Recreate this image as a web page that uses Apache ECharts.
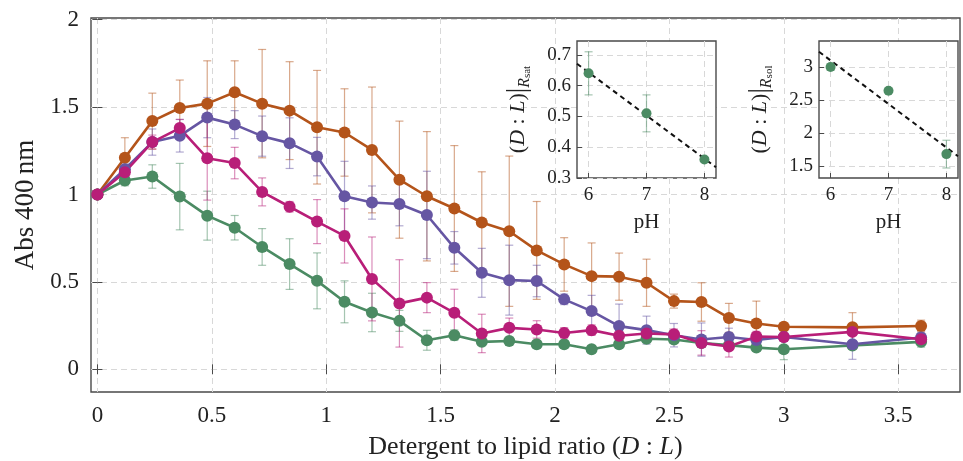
<!DOCTYPE html>
<html>
<head>
<meta charset="utf-8">
<script src="https://cdn.jsdelivr.net/npm/echarts@6/dist/echarts.min.js"></script>
<style>
html,body{margin:0;padding:0;background:#fff;}
#c{width:963px;height:461px;}
</style>
</head>
<body>
<div id="c"></div>
<script>
// ---------- data ----------
const xVals = [0,0.12,0.24,0.36,0.48,0.6,0.72,0.84,0.96,1.08,1.2,1.32,1.44,1.56,1.68,1.8,1.92,2.04,2.16,2.28,2.4,2.52,2.64,2.76,2.88,3.0,3.3,3.6];
const orangeVals = [1.0,1.21,1.42,1.495,1.52,1.585,1.52,1.48,1.385,1.355,1.255,1.085,0.99,0.92,0.84,0.79,0.68,0.60,0.533,0.53,0.495,0.39,0.385,0.294,0.262,0.243,0.24,0.248];
const orangeErr  = [0,0.115,0.16,0.16,0.245,0.18,0.31,0.28,0.325,0.25,0.36,0.335,0.37,0.36,0.29,0.43,0.28,0.153,0.19,0.135,0.135,0.04,0.11,0.083,0.128,0.01,0.084,0.033];
const purpleVals = [1.0,1.145,1.30,1.336,1.44,1.40,1.334,1.294,1.217,0.99,0.954,0.946,0.883,0.695,0.552,0.51,0.505,0.40,0.333,0.247,0.224,0.195,0.17,0.185,0.168,0.185,0.143,0.182];
const purpleErr  = [0,0.03,0.075,0.093,0.115,0.08,0.115,0.145,0.11,0.2,0.095,0.125,0.25,0.093,0.14,0.2,0.09,0.03,0.09,0.126,0.08,0.067,0.095,0.05,0.03,0.02,0.086,0.03];
const magentaVals = [1.0,1.128,1.30,1.38,1.208,1.18,1.015,0.93,0.845,0.763,0.517,0.377,0.41,0.323,0.205,0.237,0.228,0.208,0.224,0.192,0.205,0.20,0.151,0.13,0.187,0.185,0.214,0.172];
const magentaErr  = [0,0.03,0.04,0.05,0.24,0.09,0.08,0.03,0.126,0.155,0.24,0.25,0.086,0.135,0.11,0.056,0.05,0.03,0.03,0.03,0.03,0.03,0.07,0.06,0.03,0.02,0.02,0.03];
const greenVals = [1.0,1.08,1.103,0.988,0.879,0.81,0.70,0.602,0.506,0.386,0.325,0.277,0.166,0.195,0.157,0.162,0.143,0.143,0.115,0.143,0.175,0.17,0.15,0.138,0.124,0.115,0.136,0.157];
const greenErr  = [0,0.03,0.067,0.19,0.14,0.07,0.105,0.145,0.16,0.12,0.11,0.06,0.057,0.03,0.02,0.02,0.02,0.02,0.02,0.02,0.02,0.02,0.02,0.02,0.02,0.06,0.02,0.03];

const xTicks = [0,0.5,1,1.5,2,2.5,3,3.5];
const yTicks = [0,0.5,1,1.5,2];

// insets
const pH = [6,7,8];
const satVals = [0.64,0.51,0.36];
const satErr  = [0.07,0.06,0.0];
const solVals = [3.0,2.64,1.68];
const solErr  = [0.05,0.0,0.21];
const pHFit = [5.8,8.2];
const satFit = [0.671,0.335];
const solFit = [3.232,1.648];
const pHTicks = [6,7,8];
const satTicks = [0.3,0.4,0.5,0.6,0.7];
const solTicks = [1.5,2,2.5,3];

// ---------- styles ----------
const C = {orange:'#b4541a', purple:'#6656a3', magenta:'#b81e78', green:'#4b8b63'};
const FONT = 'Liberation Serif';
const frame = '#4a4a4a';
const gridLine = {show:true, lineStyle:{color:'#d8d8d8', type:[6,4], width:1}};

function zip(xs, ys){ return xs.map((x,i)=>[x, ys[i]]); }
function zip3(xs, ys, es){ return xs.map((x,i)=>[x, ys[i], es[i]]); }

function errSeries(xi, yi, data, color, cap, z){
  return {
    type:'custom', xAxisIndex:xi, yAxisIndex:yi, z:z, silent:true,
    data:data,
    renderItem:function(params, api){
      const x = api.value(0), y = api.value(1), e = api.value(2);
      if (!(e > 0)) return null;
      const top = api.coord([x, y+e]);
      const bot = api.coord([x, y-e]);
      const st = {stroke:color, lineWidth:1.2, opacity:0.5};
      return {type:'group', children:[
        {type:'line', shape:{x1:top[0], y1:top[1], x2:bot[0], y2:bot[1]}, style:st},
        {type:'line', shape:{x1:top[0]-cap, y1:top[1], x2:top[0]+cap, y2:top[1]}, style:st},
        {type:'line', shape:{x1:bot[0]-cap, y1:bot[1], x2:bot[0]+cap, y2:bot[1]}, style:st}
      ]};
    }
  };
}
function lineSeries(name, data, color){
  return {
    name:name, type:'line', xAxisIndex:0, yAxisIndex:0, data:data, z:5,
    symbol:'circle', symbolSize:12, showSymbol:true,
    lineStyle:{color:color, width:2.6}, itemStyle:{color:color, opacity:1},
    emphasis:{disabled:true}, animation:false
  };
}

const labelStyle = {fontFamily:FONT, fontSize:23, color:'#222'};
const insetLabel = {fontFamily:FONT, fontSize:19, color:'#222'};

const insetName = function(sub){
  return '{n|(}{i|D}{n| : }{i|L}{n|)}{b||}{s|R}{ss|' + sub + '}';
};
const insetRich = {
  n:{fontFamily:FONT, fontSize:22, color:'#222'},
  i:{fontFamily:FONT, fontSize:22, fontStyle:'italic', color:'#222'},
  b:{fontFamily:FONT, fontSize:27, color:'#222'},
  s:{fontFamily:FONT, fontSize:16, fontStyle:'italic', color:'#222', verticalAlign:'bottom', padding:[14,0,0,0]},
  ss:{fontFamily:FONT, fontSize:11, color:'#222', verticalAlign:'bottom', padding:[19,0,0,0]}
};

function mkX(gi, pos, min, max, ticks, showLabel, lab, extra){
  return Object.assign({
    type:'value', gridIndex:gi, position:pos, min:min, max:max,
    axisLine:{show:false},
    axisTick:{show:true, inside:true, length:5, lineStyle:{color:frame, width:1}, customValues:ticks},
    axisLabel:Object.assign({show:showLabel, customValues:ticks, margin:12}, lab),
    splitLine:showLabel ? gridLine : {show:false}
  }, extra||{});
}

const option = {
  backgroundColor:'#fff',
  animation:false,
  grid:[
    {left:91, top:18, width:869, height:374, show:true, borderColor:frame, borderWidth:1.4, backgroundColor:'transparent', outerBoundsMode:'none', containLabel:false},
    {left:577, top:41, width:139, height:137, show:true, borderColor:frame, borderWidth:1.4, backgroundColor:'#fff', outerBoundsMode:'none', containLabel:false, z:10},
    {left:819, top:41, width:139, height:137, show:true, borderColor:frame, borderWidth:1.4, backgroundColor:'#fff', outerBoundsMode:'none', containLabel:false, z:10}
  ],
  xAxis:[
    mkX(0,'bottom',-0.028,3.77,xTicks,true,Object.assign({formatter:v=>String(v)},labelStyle),{
      name:'{n|Detergent to lipid ratio (}{i|D}{n| : }{i|L}{n|)}', nameLocation:'middle', nameGap:42,
      nameTextStyle:{rich:{n:{fontFamily:FONT,fontSize:26,color:'#222'}, i:{fontFamily:FONT,fontSize:26,fontStyle:'italic',color:'#222'}}}
    }),
    mkX(0,'top',-0.028,3.77,xTicks,false,{}),
    mkX(1,'bottom',5.8,8.2,pHTicks,true,Object.assign({margin:8},insetLabel),{
      name:'pH', nameLocation:'middle', nameGap:34, nameTextStyle:{fontFamily:FONT,fontSize:21,color:'#222'}, z:11
    }),
    mkX(2,'bottom',5.8,8.2,pHTicks,true,Object.assign({margin:8},insetLabel),{
      name:'pH', nameLocation:'middle', nameGap:34, nameTextStyle:{fontFamily:FONT,fontSize:21,color:'#222'}, z:11
    })
  ],
  yAxis:[
    mkX(0,'left',-0.13,2.01,yTicks,true,Object.assign({formatter:v=>String(v)},labelStyle),{
      name:'Abs 400\u2009nm', nameLocation:'middle', nameGap:47, nameRotate:90,
      nameTextStyle:{fontFamily:FONT,fontSize:27,color:'#222'}
    }),
    mkX(0,'right',-0.13,2.01,yTicks,false,{}),
    mkX(1,'left',0.3,0.745,satTicks,true,Object.assign({margin:6},insetLabel),{
      name:insetName('sat'), nameLocation:'middle', nameGap:44, nameRotate:90,
      nameTextStyle:{rich:insetRich}, z:11
    }),
    mkX(2,'left',1.318,3.394,solTicks,true,Object.assign({margin:6},insetLabel),{
      name:insetName('sol'), nameLocation:'middle', nameGap:44, nameRotate:90,
      nameTextStyle:{rich:insetRich}, z:11
    })
  ],
  series:[
    errSeries(0,0,zip3(xVals,greenVals,greenErr),C.green,4,2),
    errSeries(0,0,zip3(xVals,orangeVals,orangeErr),C.orange,4,2),
    errSeries(0,0,zip3(xVals,purpleVals,purpleErr),C.purple,4,2),
    errSeries(0,0,zip3(xVals,magentaVals,magentaErr),C.magenta,4,2),
    lineSeries('green', zip(xVals,greenVals), C.green),
    lineSeries('orange', zip(xVals,orangeVals), C.orange),
    lineSeries('purple', zip(xVals,purpleVals), C.purple),
    lineSeries('magenta', zip(xVals,magentaVals), C.magenta),
    // inset 1
    errSeries(2,2,zip3(pH,satVals,satErr),C.green,4,12),
    {type:'line', xAxisIndex:2, yAxisIndex:2, data:zip(pHFit,satFit), z:12, symbol:'none',
     lineStyle:{color:'#111', width:2, type:[5,4]}, silent:true},
    {type:'scatter', xAxisIndex:2, yAxisIndex:2, data:zip(pH,satVals), z:13, symbolSize:10, itemStyle:{color:C.green, opacity:1}, silent:true},
    // inset 2
    errSeries(3,3,zip3(pH,solVals,solErr),C.green,4,12),
    {type:'line', xAxisIndex:3, yAxisIndex:3, data:zip(pHFit,solFit), z:12, symbol:'none',
     lineStyle:{color:'#111', width:2, type:[5,4]}, silent:true},
    {type:'scatter', xAxisIndex:3, yAxisIndex:3, data:zip(pH,solVals), z:13, symbolSize:10, itemStyle:{color:C.green, opacity:1}, silent:true}
  ]
};
const chart = echarts.init(document.getElementById('c'), null, {renderer:'canvas'});
chart.setOption(option);
</script>
</body>
</html>
